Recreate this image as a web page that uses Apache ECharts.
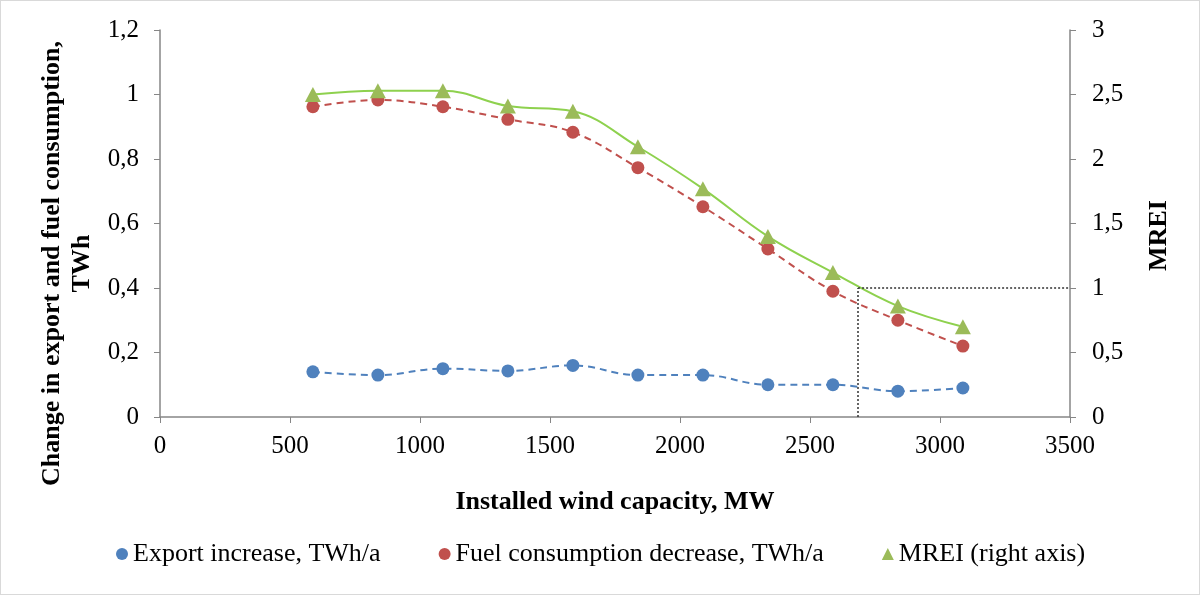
<!DOCTYPE html>
<html>
<head>
<meta charset="utf-8">
<script src="https://cdn.jsdelivr.net/npm/echarts@6/dist/echarts.min.js"></script>
<style>
html,body{margin:0;padding:0;background:#fff;}
#c{width:1198px;height:593px;border:1px solid #d9d9d9;}
</style>
</head>
<body>
<div id="c"></div>
<script>
var capacity = [588, 838, 1088, 1338, 1588, 1838, 2088, 2338, 2588, 2838, 3088];
var exportIncrease = [0.14, 0.13, 0.15, 0.143, 0.16, 0.13, 0.13, 0.10, 0.10, 0.08, 0.09];
var fuelDecrease = [0.962, 0.983, 0.962, 0.923, 0.883, 0.773, 0.652, 0.521, 0.39, 0.30, 0.22];
var mrei = [2.50, 2.53, 2.53, 2.41, 2.37, 2.095, 1.77, 1.40, 1.12, 0.86, 0.70];
var refCapacity = 2685;
var refMREI = 1;
var xMax = 3500;
var seriesNames = ['Export increase, TWh/a', 'Fuel consumption decrease, TWh/a', 'MREI (right axis)'];

function pairs(xs, ys){ return xs.map(function(x,i){ return [x, ys[i]]; }); }
function comma(v){ return String(v).replace('.', ','); }

var font = 'Liberation Serif';
var axisGray = '#868686';
var chart = echarts.init(document.getElementById('c'));
chart.setOption({
  animation: false,
  textStyle: {fontFamily: font},
  grid: {left: 159, right: 129, top: 29, bottom: 177, containLabel: false, outerBoundsMode: 'none'},
  legend: {
    bottom: 22, left: 110, itemGap: 58, itemWidth: 12, itemHeight: 12,
    textStyle: {fontFamily: font, fontSize: 26, color: '#000'},
    data: [
      {name: seriesNames[0], icon: 'circle'},
      {name: seriesNames[1], icon: 'circle'},
      {name: seriesNames[2], icon: 'triangle'}
    ]
  },
  xAxis: {
    type: 'value', min: 0, max: xMax, interval: 500,
    name: 'Installed wind capacity, MW', nameLocation: 'middle', nameGap: 72,
    nameTextStyle: {fontFamily: font, fontSize: 26, fontWeight: 'bold', color: '#000'},
    axisLine: {show: true, lineStyle: {color: axisGray, width: 1.5}},
    axisTick: {show: true, length: 6, lineStyle: {color: axisGray}},
    splitLine: {show: false},
    axisLabel: {fontFamily: font, fontSize: 25, color: '#000', margin: 17, formatter: function(v){ return String(v); }}
  },
  yAxis: [
    {
      type: 'value', min: 0, max: 1.2, interval: 0.2, position: 'left',
      name: 'Change in export and fuel consumption,\nTWh', nameLocation: 'middle', nameGap: 62,
      nameTextStyle: {fontFamily: font, fontSize: 26, fontWeight: 'bold', color: '#000', lineHeight: 30, padding: [0, 80, 0, 0]},
      axisLine: {show: true, lineStyle: {color: axisGray, width: 1.5}},
      axisTick: {show: true, length: 6, lineStyle: {color: axisGray}},
      splitLine: {show: false},
      axisLabel: {fontFamily: font, fontSize: 25, color: '#000', margin: 21, formatter: function(v){ return comma(Math.round(v*10)/10); }}
    },
    {
      type: 'value', min: 0, max: 3, interval: 0.5, position: 'right',
      name: 'MREI', nameLocation: 'middle', nameGap: 76,
      nameTextStyle: {fontFamily: font, fontSize: 26, fontWeight: 'bold', color: '#000', padding: [0, 24, 0, 0]},
      axisLine: {show: true, lineStyle: {color: axisGray, width: 1.5}},
      axisTick: {show: true, length: 6, lineStyle: {color: axisGray}},
      splitLine: {show: false},
      axisLabel: {fontFamily: font, fontSize: 25, color: '#000', margin: 22, formatter: function(v){ return comma(v); }}
    }
  ],
  series: [
    {
      name: seriesNames[0], type: 'line', yAxisIndex: 0, smooth: 0.4,
      data: pairs(capacity, exportIncrease),
      symbol: 'circle', symbolSize: 13,
      itemStyle: {color: '#4F81BD'},
      lineStyle: {color: '#4F81BD', width: 2, type: [7, 5]}
    },
    {
      name: seriesNames[1], type: 'line', yAxisIndex: 0, smooth: 0.4,
      data: pairs(capacity, fuelDecrease),
      symbol: 'circle', symbolSize: 13,
      itemStyle: {color: '#C0504D'},
      lineStyle: {color: '#C0504D', width: 2, type: [7, 5]}
    },
    {
      name: seriesNames[2], type: 'line', yAxisIndex: 1, smooth: 0.4,
      data: pairs(capacity, mrei),
      symbol: 'triangle', symbolSize: [16, 15],
      itemStyle: {color: '#9BBB59'},
      lineStyle: {color: '#8ED14E', width: 2},
      markLine: {
        silent: true, symbol: 'none', label: {show: false},
        lineStyle: {color: '#333', width: 1.5, type: [2, 2]},
        data: [
          [{coord: [refCapacity, 0]}, {coord: [refCapacity, refMREI]}],
          [{coord: [refCapacity, refMREI]}, {coord: [xMax, refMREI]}]
        ]
      }
    }
  ]
});
</script>
</body>
</html>
